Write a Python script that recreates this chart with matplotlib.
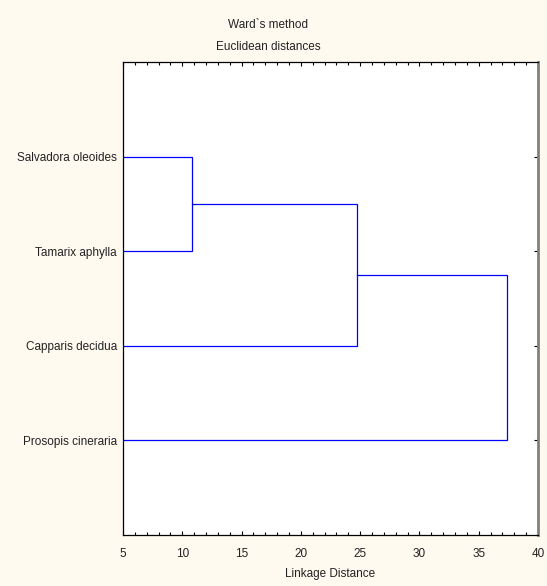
import numpy as np
import matplotlib.pyplot as plt
from matplotlib.ticker import MultipleLocator

plt.rcParams['font.family'] = ['Liberation Sans', 'DejaVu Sans']

labels = ["Salvadora oleoides", "Tamarix aphylla", "Capparis decidua", "Prosopis cineraria"]
# linkage rows: cluster a, cluster b, distance (clusters numbered like scipy)
merges = [(0, 1, 10.8), (4, 2, 24.7), (5, 3, 37.4)]
x_ticks = [5, 10, 15, 20, 25, 30, 35, 40]

fig = plt.figure(figsize=(5.47, 5.86), dpi=100, facecolor='#fffaf0')
ax = fig.add_axes([0.2249, 0.087, 0.7587, 0.8072])

# leaf positions 1..n top to bottom, height 0
nodes = {i: (i + 1, 0.0) for i in range(len(labels))}
for k, (a, b, d) in enumerate(merges):
    ya, ha = nodes[a]
    yb, hb = nodes[b]
    ax.plot([ha, d, d, hb], [ya, ya, yb, yb], color='#0000ff', lw=0.9,
            solid_joinstyle='miter')
    nodes[len(labels) + k] = ((ya + yb) / 2, d)

ax.set_xlim(5, 40)
ax.set_ylim(len(labels) + 1, 0)
ax.set_xticks(x_ticks)
ax.xaxis.set_minor_locator(MultipleLocator(1))
ax.set_yticks(range(1, len(labels) + 1))
ax.set_yticklabels(labels)

ax.tick_params(axis='x', which='major', direction='in', length=3, width=0.8,
               top=True, labelsize=8.5, labelcolor='#222222', pad=9)
ax.tick_params(axis='x', which='minor', direction='in', length=2, width=0.8, top=True)
ax.tick_params(axis='y', direction='in', length=3, width=0.8, left=False, right=True,
               labelsize=8.5, labelcolor='#222222', pad=4.5)

for s in ['left', 'top', 'bottom']:
    ax.spines[s].set_linewidth(0.9)
ax.spines['right'].set_color('#808080')
ax.spines['right'].set_linewidth(2)

ax.set_xlabel('Linkage Distance', fontsize=8.5, color='#222222', labelpad=6)
fig.text(0.49, 0.957, 'Ward`s method', ha='center', va='center', fontsize=8.5, color='#222222')
fig.text(0.49, 0.920, 'Euclidean distances', ha='center', va='center', fontsize=8.5, color='#222222')

fig.savefig('out.png', dpi=100, facecolor=fig.get_facecolor())
